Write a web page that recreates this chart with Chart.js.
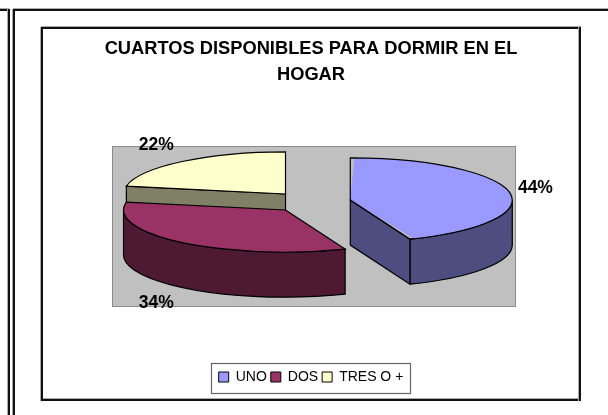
<!DOCTYPE html>
<html>
<head>
<meta charset="utf-8">
<style>html,body{margin:0;padding:0;background:#fff}canvas{display:block}</style>
<script src="https://cdn.jsdelivr.net/npm/chart.js@4"></script>
</head>
<body>
<canvas id="c" width="608" height="415"></canvas>
<script>
const titleLines = ['CUARTOS DISPONIBLES PARA DORMIR EN EL', 'HOGAR'];
const categories = ['UNO', 'DOS', 'TRES O +'];
const shares = [44, 34, 22];
const topColors = ['#9999FF', '#993366', '#FFFFCC'];
const wallColors = ['#4D4D80', '#4D1933', '#808066'];

const FONT = '"Liberation Sans", Arial, sans-serif';
const view = { centerY: 202, squash: 0.26, depth: 45 };
const plotBox = { l: 112, t: 146, r: 516, b: 307 };
const legendBox = { l: 211, t: 363, r: 411, b: 394 };

function geom(el, R) {
  const mid = (el.startAngle + el.endAngle) / 2;
  // ArcElement draws its explosion at a quarter of the offset option
  const off = el.options.offset / 4;
  return {
    mid, off, R,
    cx: el.x + Math.cos(mid) * off,
    sy: view.centerY + Math.sin(mid) * off * view.squash
  };
}
function hline(ctx, x1, x2, y) {
  ctx.fillStyle = '#aaaaaa'; ctx.fillRect(x1, y - 1, x2 - x1, 1);
  ctx.fillStyle = '#111111'; ctx.fillRect(x1, y, x2 - x1, 2);
}
function vline(ctx, x, y1, y2) {
  ctx.fillStyle = '#111111'; ctx.fillRect(x, y1, 2, y2 - y1);
  ctx.fillStyle = '#aaaaaa'; ctx.fillRect(x - 1, y1, 1, y2 - y1);
}

const framePlugin = {
  id: 'frames',
  beforeDraw(chart) {
    const ctx = chart.ctx;
    hline(ctx, 0, 9, 9); vline(ctx, 8, 9, 415);
    hline(ctx, 13, 608, 9); vline(ctx, 13, 9, 415);
    hline(ctx, 41, 581, 27); hline(ctx, 41, 581, 399);
    vline(ctx, 41, 27, 401); vline(ctx, 579, 27, 401);
    ctx.fillStyle = '#C0C0C0';
    ctx.fillRect(plotBox.l, plotBox.t, plotBox.r - plotBox.l, plotBox.b - plotBox.t);
    ctx.strokeStyle = '#8c8c8c'; ctx.lineWidth = 1;
    ctx.strokeRect(plotBox.l + .5, plotBox.t + .5, plotBox.r - plotBox.l - 1, plotBox.b - plotBox.t - 1);
    ctx.fillStyle = '#fff';
    ctx.fillRect(legendBox.l, legendBox.t, legendBox.r - legendBox.l, legendBox.b - legendBox.t);
    ctx.strokeStyle = '#666'; ctx.lineWidth = 1.2;
    ctx.strokeRect(legendBox.l + .5, legendBox.t + .5, legendBox.r - legendBox.l - 1, legendBox.b - legendBox.t - 1);
  }
};

const pie3d = {
  id: 'pie3d',
  beforeDatasetsDraw(chart) {
    const ctx = chart.ctx;
    const meta = chart.getDatasetMeta(0);
    const arcs = meta.data, R = meta.controller.outerRadius;
    const k = view.squash, D = view.depth;
    ctx.lineWidth = 1.2;
    ctx.strokeStyle = '#000';
    for (let i = arcs.length - 1; i >= 0; i--) {
      const el = arcs[i], g = geom(el, R);
      // ArcElement grows a slice by offset*fix when exploded; cancel that so all slices share one radius
      const fix = 1 - Math.sin(Math.min(Math.PI, el.circumference));
      el.outerRadius = R - g.off * fix;
      ctx.fillStyle = wallColors[i];
      const ry = R * k;
      const s = el.startAngle, e = el.endAngle;
      const a0 = Math.max(s, 0), a1 = Math.min(e, Math.PI);
      if (a1 > a0) {
        ctx.beginPath();
        ctx.ellipse(g.cx, g.sy, R, ry, 0, a0, a1);
        ctx.lineTo(g.cx + R * Math.cos(a1), g.sy + ry * Math.sin(a1) + D);
        ctx.ellipse(g.cx, g.sy + D, R, ry, 0, a1, a0, true);
        ctx.closePath();
        ctx.fill(); ctx.stroke();
      }
      const radial = a => {
        const px = g.cx + R * Math.cos(a), py = g.sy + ry * Math.sin(a);
        ctx.beginPath();
        ctx.moveTo(g.cx, g.sy); ctx.lineTo(px, py);
        ctx.lineTo(px, py + D); ctx.lineTo(g.cx, g.sy + D);
        ctx.closePath();
        ctx.fill(); ctx.stroke();
      };
      if (e > -Math.PI / 2 && e < Math.PI / 2) radial(e);
      if (s > Math.PI / 2 && s < 3 * Math.PI / 2) radial(s);
    }
    ctx.save();
    ctx.translate(0, view.centerY);
    ctx.scale(1, k);
    ctx.translate(0, -arcs[0].y);
  },
  afterDatasetsDraw(chart) {
    const ctx = chart.ctx;
    const meta = chart.getDatasetMeta(0);
    const arcs = meta.data, R = meta.controller.outerRadius;
    const k = view.squash, D = view.depth;
    ctx.restore();
    ctx.lineWidth = 1.2;
    ctx.strokeStyle = '#000';
    arcs.forEach(el => {
      const g = geom(el, R);
      ctx.beginPath();
      ctx.moveTo(g.cx, g.sy);
      ctx.ellipse(g.cx, g.sy, R, R * k, 0, el.startAngle, el.endAngle);
      ctx.closePath();
      ctx.stroke();
    });
    ctx.fillStyle = '#000';
    ctx.font = 'bold 17.5px ' + FONT;
    ctx.textAlign = 'center';
    ctx.textBaseline = 'middle';
    arcs.forEach((el, i) => {
      const g = geom(el, R);
      const c = Math.cos(g.mid), s = Math.sin(g.mid);
      const x = g.cx + R * c + Math.sign(c) * 26;
      const y = g.sy + R * k * s + s * 21 + (s > 0.5 ? D : 0);
      ctx.fillText(shares[i] + '%', x, y);
    });
  }
};

new Chart(document.getElementById('c'), {
  type: 'pie',
  plugins: [framePlugin, pie3d],
  data: {
    labels: categories,
    datasets: [{
      data: shares,
      backgroundColor: topColors,
      borderWidth: 0,
      offset: 160,
      radius: 162,
      clip: false
    }]
  },
  options: {
    responsive: false,
    animation: false,
    devicePixelRatio: 1,
    layout: { padding: { left: 14, right: 0, top: 0, bottom: 21 } },
    plugins: {
      tooltip: { enabled: false },
      title: {
        display: true,
        text: titleLines,
        color: '#000',
        font: { family: FONT, size: 18.3, weight: 'bold', lineHeight: 1.42 },
        padding: { top: 36, bottom: 0 }
      },
      legend: {
        display: true,
        position: 'bottom',
        labels: {
          color: '#000',
          font: { family: FONT, size: 14 },
          boxWidth: 10,
          boxHeight: 10,
          padding: 4,
          generateLabels(chart) {
            const base = Chart.overrides.pie.plugins.legend.labels.generateLabels(chart);
            base.forEach(it => { it.strokeStyle = '#000'; it.lineWidth = 1; });
            return base;
          }
        }
      }
    }
  }
});
</script>
</body>
</html>
